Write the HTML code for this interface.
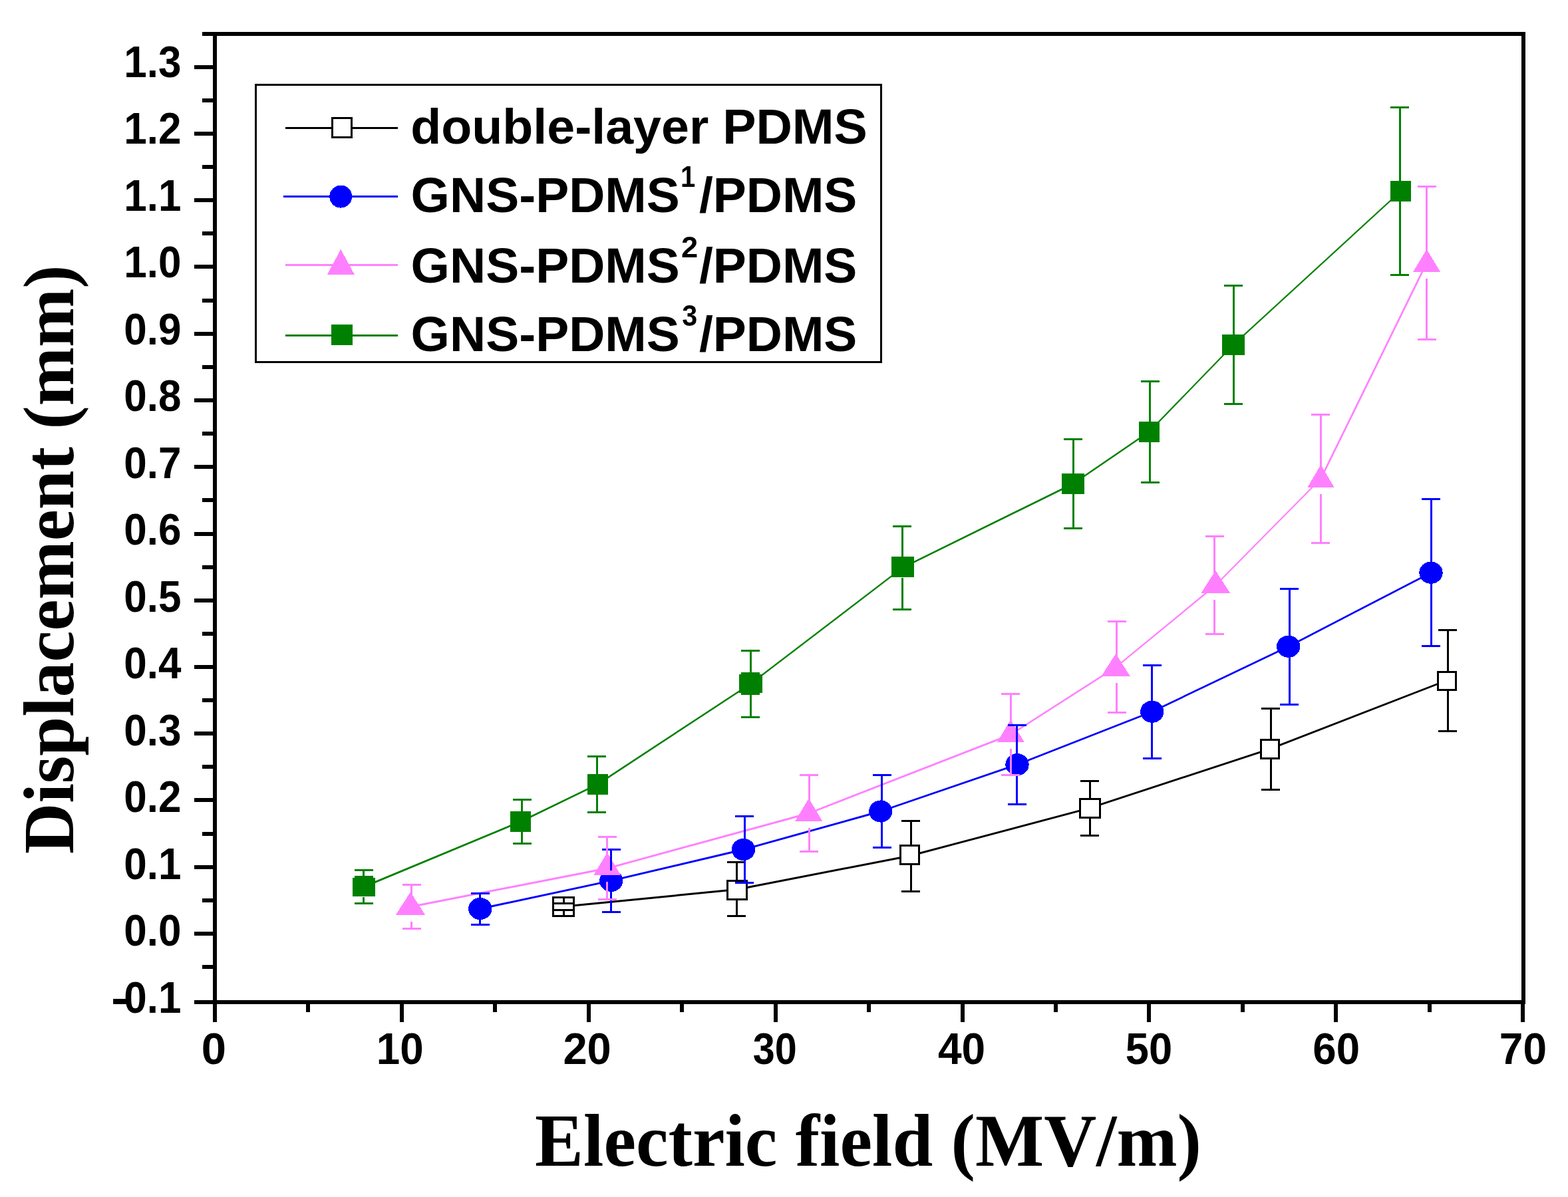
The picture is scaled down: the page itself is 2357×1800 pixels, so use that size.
<!DOCTYPE html><html><head><meta charset="utf-8"><title>Displacement vs Electric field</title>
<style>html,body{margin:0;padding:0;background:#fff;overflow:hidden}svg{display:block}.tk{font-family:"Liberation Sans",Arial,sans-serif;font-weight:bold;font-size:66px;fill:#000}.lg{font-family:"Liberation Sans",Arial,sans-serif;font-weight:bold;font-size:75px;fill:#000}.sp{font-family:"Liberation Sans",Arial,sans-serif;font-weight:bold;font-size:44.8px;fill:#000}.ti{font-family:"Liberation Serif","Times New Roman",serif;font-weight:bold;fill:#000}</style></head><body>
<svg width="2357" height="1800" viewBox="0 0 2357 1800">
<rect width="2357" height="1800" fill="#fff"/>
<g fill="none" stroke-linecap="butt">
<g stroke="#000000"><line x1="847" y1="1363.3" x2="1108" y2="1337.5" stroke-width="2.99"/><line x1="1108" y1="1337.5" x2="1367.6" y2="1287" stroke-width="2.94"/><line x1="1367.6" y1="1287" x2="1638" y2="1215.2" stroke-width="2.90"/><line x1="1638" y1="1215.2" x2="1908.6" y2="1126.4" stroke-width="2.85"/><line x1="1908.6" y1="1126.4" x2="2174.6" y2="1023.3" stroke-width="2.80"/></g>
<g stroke="#0000ff"><line x1="721.8" y1="1366.5" x2="918.7" y2="1324.4" stroke-width="2.93"/><line x1="918.7" y1="1324.4" x2="1117.5" y2="1277.5" stroke-width="2.92"/><line x1="1117.5" y1="1277.5" x2="1323.8" y2="1220" stroke-width="2.89"/><line x1="1323.8" y1="1220" x2="1529" y2="1149.7" stroke-width="2.84"/><line x1="1529" y1="1149.7" x2="1731.8" y2="1070.2" stroke-width="2.79"/><line x1="1731.8" y1="1070.2" x2="1936.7" y2="972.2" stroke-width="2.71"/><line x1="1936.7" y1="972.2" x2="2151" y2="861.2" stroke-width="2.66"/></g>
<g stroke="#ff80ff"><line x1="617.5" y1="1363.5" x2="912.7" y2="1305.8" stroke-width="2.94"/><line x1="912.7" y1="1305.8" x2="1215.8" y2="1223" stroke-width="2.89"/><line x1="1215.8" y1="1223" x2="1519.3" y2="1104.6" stroke-width="2.79"/><line x1="1519.3" y1="1104.6" x2="1677.5" y2="1003.2" stroke-width="2.53"/><line x1="1677.5" y1="1003.2" x2="1827.3" y2="880" stroke-width="2.32"/><line x1="1827.3" y1="880" x2="1985.5" y2="719.7" stroke-width="2.14"/><line x1="1985.5" y1="719.7" x2="2144.6" y2="395.2" stroke-width="2.69"/></g>
<g stroke="#008000"><line x1="546.7" y1="1333.6" x2="782.7" y2="1235.5" stroke-width="2.77"/><line x1="782.7" y1="1235.5" x2="898.4" y2="1179.4" stroke-width="2.70"/><line x1="898.4" y1="1179.4" x2="1128.4" y2="1028.2" stroke-width="2.51"/><line x1="1128.4" y1="1028.2" x2="1356.8" y2="853.6" stroke-width="2.38"/><line x1="1356.8" y1="853.6" x2="1613" y2="727.5" stroke-width="2.69"/><line x1="1613" y1="727.5" x2="1727.4" y2="649.3" stroke-width="2.48"/><line x1="1727.4" y1="649.3" x2="1854" y2="518.4" stroke-width="2.16"/><line x1="1854" y1="518.4" x2="2105.6" y2="287.5" stroke-width="2.21"/></g>
</g>
<g shape-rendering="crispEdges">
<rect x="831.5" y="1349.5" width="31" height="27.7" fill="#fff" stroke="#000" stroke-width="3"/>
<rect x="1093.9" y="1324.6" width="28.4" height="27.6" fill="#fff" stroke="#000" stroke-width="3"/>
<rect x="1353.8" y="1271.8" width="27.6" height="27.4" fill="#fff" stroke="#000" stroke-width="3"/>
<rect x="1623.3" y="1201.1" width="29.7" height="27.9" fill="#fff" stroke="#000" stroke-width="3"/>
<rect x="1895.1" y="1112.8" width="27" height="27.2" fill="#fff" stroke="#000" stroke-width="3"/>
<rect x="2161.1" y="1010.3" width="27.1" height="26.8" fill="#fff" stroke="#000" stroke-width="3"/>
<ellipse cx="721.8" cy="1366.5" rx="17.7" ry="16.6" fill="#0000ff"/>
<ellipse cx="918.7" cy="1324.4" rx="17.7" ry="16.6" fill="#0000ff"/>
<ellipse cx="1117.5" cy="1277.5" rx="17.7" ry="16.6" fill="#0000ff"/>
<ellipse cx="1323.8" cy="1220" rx="17.7" ry="16.6" fill="#0000ff"/>
<ellipse cx="1529" cy="1149.7" rx="17.7" ry="16.6" fill="#0000ff"/>
<ellipse cx="1731.8" cy="1070.2" rx="17.7" ry="16.6" fill="#0000ff"/>
<ellipse cx="1936.7" cy="972.2" rx="17.7" ry="16.6" fill="#0000ff"/>
<ellipse cx="2151" cy="861.2" rx="17.7" ry="16.6" fill="#0000ff"/>
<polygon points="595,1375.5 639,1375.5 617,1341.5" fill="#ff80ff"/>
<polygon points="892.4,1316 933,1316 912.7,1282" fill="#ff80ff"/>
<polygon points="1195.5,1234.5 1236,1234.5 1215.8,1200.5" fill="#ff80ff"/>
<polygon points="1498.5,1116.4 1540,1116.4 1519.2,1082.4" fill="#ff80ff"/>
<polygon points="1655.4,1017 1698.9,1017 1677.2,983" fill="#ff80ff"/>
<polygon points="1805.5,891.8 1849,891.8 1827.2,857.8" fill="#ff80ff"/>
<polygon points="1965.5,732.7 2005.5,732.7 1985.5,698.7" fill="#ff80ff"/>
<polygon points="2124.3,408.8 2165,408.8 2144.7,374.8" fill="#ff80ff"/>
<rect x="529.5" y="1320" width="34.5" height="28" fill="#008000"/>
<rect x="532.8" y="1317" width="28" height="31" fill="#008000"/>
<rect x="767" y="1220" width="31" height="31" fill="#008000"/>
<rect x="883" y="1164" width="31" height="31" fill="#008000"/>
<rect x="1111" y="1014" width="34.5" height="28" fill="#008000"/>
<rect x="1114.3" y="1011" width="27.7" height="34.2" fill="#008000"/>
<rect x="1339.5" y="836.5" width="34.5" height="31" fill="#008000"/>
<rect x="1596" y="712" width="34" height="31" fill="#008000"/>
<rect x="1712" y="634" width="31" height="31" fill="#008000"/>
<rect x="1837" y="503" width="34" height="31" fill="#008000"/>
<rect x="2090" y="272" width="31" height="31" fill="#008000"/>
</g>
<g shape-rendering="crispEdges" stroke-width="3" fill="none">
<path stroke="#000000" d="M847 1348V1358.6M847 1378.7V1368.1M833 1358.6h28M833 1368.1h28M1107 1323.1V1296M1107 1353.7V1377.3M1093 1296h28M1093 1377.3h28M1369 1270.3V1234M1369 1300.7V1340M1355 1234h28M1355 1340h28M1638.2 1199.6V1174.5M1638.2 1230.5V1256M1624.2 1174.5h28M1624.2 1256h28M1910 1111.3V1065.5M1910 1141.5V1187.3M1896 1065.5h28M1896 1187.3h28M2176 1008.8V947M2176 1038.6V1099.7M2162 947h28M2162 1099.7h28"/>
<path stroke="#0000ff" d="M721.8 1351.5V1343M721.8 1381.5V1390M707.8 1343h28M707.8 1390h28M918.6 1309.4V1277.7M918.6 1339.4V1371.1M904.6 1277.7h28M904.6 1371.1h28M1119 1262.5V1227.6M1119 1292.5V1327.3M1105 1227.6h28M1105 1327.3h28M1325.5 1205V1165.5M1325.5 1235V1274.5M1311.5 1165.5h28M1311.5 1274.5h28M1528.7 1134.7V1090.4M1528.7 1164.7V1209M1514.7 1090.4h28M1514.7 1209h28M1731.8 1055.2V1000M1731.8 1085.2V1140.4M1717.8 1000h28M1717.8 1140.4h28M1938.2 957.2V885M1938.2 987.2V1059.5M1924.2 885h28M1924.2 1059.5h28M2151.3 846.2V750.6M2151.3 876.2V971.9M2137.3 750.6h28M2137.3 971.9h28"/>
<path stroke="#ff80ff" d="M618.5 1345.5V1330.5M618.5 1385.5V1396.4M604.5 1330.5h28M604.5 1396.4h28M912.7 1286V1258.9M912.7 1326V1352.6M898.7 1258.9h28M898.7 1352.6h28M1216 1204.5V1165.5M1216 1244.5V1280.4M1202 1165.5h28M1202 1280.4h28M1519 1086.4V1043.6M1519 1126.4V1165.5M1505 1043.6h28M1505 1165.5h28M1678.5 987V934.5M1678.5 1027V1071.8M1664.5 934.5h28M1664.5 1071.8h28M1825.5 861.8V806.7M1825.5 901.8V953.3M1811.5 806.7h28M1811.5 953.3h28M1985 702.7V623M1985 742.7V816.4M1971 623h28M1971 816.4h28M2144.5 378.8V280M2144.5 418.8V510.5M2130.5 280h28M2130.5 510.5h28"/>
<path stroke="#008000" d="M546.5 1318.6V1308.7M546.5 1348.6V1358.6M532.5 1308.7h28M532.5 1358.6h28M784.5 1220.5V1202.7M784.5 1250.5V1268.4M770.5 1202.7h28M770.5 1268.4h28M897 1164.4V1137.3M897 1194.4V1221.5M883 1137.3h28M883 1221.5h28M1128.2 1013.2V978.2M1128.2 1043.2V1078.2M1114.2 978.2h28M1114.2 1078.2h28M1356.4 838.6V791.3M1356.4 868.6V916M1342.4 791.3h28M1342.4 916h28M1613.1 712.5V660.4M1613.1 742.5V794.5M1599.1 660.4h28M1599.1 794.5h28M1728.5 634.3V573.1M1728.5 664.3V725.5M1714.5 573.1h28M1714.5 725.5h28M1854 503.4V429.5M1854 533.4V607.3M1840 429.5h28M1840 607.3h28M2104 272.5V161.3M2104 302.5V413.8M2090 161.3h28M2090 413.8h28"/>
</g>
<g shape-rendering="crispEdges" fill="#000">
<rect x="304" y="48" width="1989" height="6"/>
<rect x="320" y="48" width="6" height="1462"/>
<rect x="2287" y="48" width="6" height="1462"/>
<rect x="292" y="1504" width="2001" height="6"/>
<rect x="292" y="1504" width="28" height="6"/>
<rect x="292" y="1401" width="28" height="6"/>
<rect x="292" y="1301" width="28" height="6"/>
<rect x="292" y="1200" width="28" height="6"/>
<rect x="292" y="1100" width="28" height="6"/>
<rect x="292" y="1000" width="28" height="6"/>
<rect x="292" y="900" width="28" height="6"/>
<rect x="292" y="800" width="28" height="6"/>
<rect x="292" y="699" width="28" height="6"/>
<rect x="292" y="599" width="28" height="6"/>
<rect x="292" y="499" width="28" height="6"/>
<rect x="292" y="398" width="28" height="6"/>
<rect x="292" y="298" width="28" height="6"/>
<rect x="292" y="198" width="28" height="6"/>
<rect x="292" y="98" width="28" height="6"/>
<rect x="304" y="1451" width="16" height="6"/>
<rect x="304" y="1351" width="16" height="6"/>
<rect x="304" y="1251" width="16" height="6"/>
<rect x="304" y="1150" width="16" height="6"/>
<rect x="304" y="1050" width="16" height="6"/>
<rect x="304" y="950" width="16" height="6"/>
<rect x="304" y="850" width="16" height="6"/>
<rect x="304" y="749" width="16" height="6"/>
<rect x="304" y="649" width="16" height="6"/>
<rect x="304" y="549" width="16" height="6"/>
<rect x="304" y="449" width="16" height="6"/>
<rect x="304" y="348" width="16" height="6"/>
<rect x="304" y="248" width="16" height="6"/>
<rect x="304" y="148" width="16" height="6"/>
<rect x="320" y="1510" width="6" height="27"/>
<rect x="601" y="1510" width="6" height="27"/>
<rect x="882" y="1510" width="6" height="27"/>
<rect x="1163" y="1510" width="6" height="27"/>
<rect x="1444" y="1510" width="6" height="27"/>
<rect x="1724" y="1510" width="6" height="27"/>
<rect x="2005" y="1510" width="6" height="27"/>
<rect x="2286" y="1510" width="6" height="27"/>
<rect x="460" y="1510" width="6" height="12"/>
<rect x="741" y="1510" width="6" height="12"/>
<rect x="1022" y="1510" width="6" height="12"/>
<rect x="1303" y="1510" width="6" height="12"/>
<rect x="1584" y="1510" width="6" height="12"/>
<rect x="1865" y="1510" width="6" height="12"/>
<rect x="2146" y="1510" width="6" height="12"/>
</g>
<g class="tk">
<text transform="translate(166.7 1522.8) scale(1.29 1)">-</text>
<text x="186.3" y="1522.8" textLength="86.2" lengthAdjust="spacingAndGlyphs">0.1</text>
<text x="186.3" y="1422.3" textLength="86.2" lengthAdjust="spacingAndGlyphs">0.0</text>
<text x="186.3" y="1321.8" textLength="86.2" lengthAdjust="spacingAndGlyphs">0.1</text>
<text x="186.3" y="1221.3" textLength="86.2" lengthAdjust="spacingAndGlyphs">0.2</text>
<text x="186.3" y="1120.8" textLength="86.2" lengthAdjust="spacingAndGlyphs">0.3</text>
<text x="186.3" y="1020.3" textLength="86.2" lengthAdjust="spacingAndGlyphs">0.4</text>
<text x="186.3" y="919.8" textLength="86.2" lengthAdjust="spacingAndGlyphs">0.5</text>
<text x="186.3" y="819.3" textLength="86.2" lengthAdjust="spacingAndGlyphs">0.6</text>
<text x="186.3" y="718.8" textLength="86.2" lengthAdjust="spacingAndGlyphs">0.7</text>
<text x="186.3" y="618.3" textLength="86.2" lengthAdjust="spacingAndGlyphs">0.8</text>
<text x="186.3" y="517.8" textLength="86.2" lengthAdjust="spacingAndGlyphs">0.9</text>
<text x="186.3" y="417.3" textLength="86.2" lengthAdjust="spacingAndGlyphs">1.0</text>
<text x="186.3" y="316.8" textLength="86.2" lengthAdjust="spacingAndGlyphs">1.1</text>
<text x="186.3" y="216.3" textLength="86.2" lengthAdjust="spacingAndGlyphs">1.2</text>
<text x="186.3" y="115.8" textLength="86.2" lengthAdjust="spacingAndGlyphs">1.3</text>
<text class="tk" style="font-size:66px" x="302.7" y="1600" textLength="37.3" lengthAdjust="spacingAndGlyphs">0</text>
<text class="tk" style="font-size:66px" x="565.7" y="1600" textLength="70.9" lengthAdjust="spacingAndGlyphs">10</text>
<text class="tk" style="font-size:66px" x="846.4" y="1600" textLength="72.4" lengthAdjust="spacingAndGlyphs">20</text>
<text class="tk" style="font-size:66px" x="1131.8" y="1600" textLength="66.1" lengthAdjust="spacingAndGlyphs">30</text>
<text class="tk" style="font-size:66px" x="1410" y="1600" textLength="71.2" lengthAdjust="spacingAndGlyphs">40</text>
<text class="tk" style="font-size:66px" x="1691.7" y="1600" textLength="70.4" lengthAdjust="spacingAndGlyphs">50</text>
<text class="tk" style="font-size:66px" x="1973.3" y="1600" textLength="70.7" lengthAdjust="spacingAndGlyphs">60</text>
<text class="tk" style="font-size:66px" x="2253.8" y="1600" textLength="71.2" lengthAdjust="spacingAndGlyphs">70</text>
</g>
<text class="ti" style="font-size:113px" x="804.1" y="1752.7" textLength="1001.9" lengthAdjust="spacingAndGlyphs">Electric field (MV/m)</text>
<text class="ti" style="font-size:107.5px" transform="translate(109.7 1283.9) rotate(-90)" x="0" y="0" textLength="885.4" lengthAdjust="spacingAndGlyphs">Displacement (mm)</text>
<rect x="384.5" y="127.5" width="940" height="417" fill="none" stroke="#000" stroke-width="3" shape-rendering="crispEdges"/>
<g shape-rendering="crispEdges">
<rect x="429" y="191" width="169" height="3" fill="#000000"/>
<rect x="499.5" y="177" width="29" height="29" fill="#fff" stroke="#000" stroke-width="3"/>
<rect x="426" y="294" width="172" height="3" fill="#0000ff"/>
<circle cx="512.3" cy="295.6" r="17" fill="#0000ff"/>
<rect x="429" y="397" width="169" height="3" fill="#ff80ff"/>
<polygon points="492,412.5 532.6,412.5 512.3,375" fill="#ff80ff"/>
<rect x="429" y="503" width="169" height="3" fill="#008000"/>
<rect x="498" y="487.5" width="31.5" height="31" fill="#008000"/>
</g>
<g class="lg">
<text class="lg" style="font-size:75px" x="617.2" y="215.8" textLength="686.7" lengthAdjust="spacingAndGlyphs">double-layer PDMS</text>
<text class="lg" style="font-size:75px" x="617.6" y="318.8" textLength="404.3" lengthAdjust="spacingAndGlyphs">GNS-PDMS</text>
<text class="sp" style="font-size:44.8px" x="1022.9" y="281.2" textLength="22.3" lengthAdjust="spacingAndGlyphs">1</text>
<text class="lg" style="font-size:75px" x="1050.9" y="318.8" textLength="237.5" lengthAdjust="spacingAndGlyphs">/PDMS</text>
<text class="lg" style="font-size:75px" x="617.6" y="424.6" textLength="404.3" lengthAdjust="spacingAndGlyphs">GNS-PDMS</text>
<text class="sp" style="font-size:44.8px" x="1024.1" y="387.1" textLength="25.2" lengthAdjust="spacingAndGlyphs">2</text>
<text class="lg" style="font-size:75px" x="1050.9" y="424.6" textLength="237.5" lengthAdjust="spacingAndGlyphs">/PDMS</text>
<text class="lg" style="font-size:75px" x="617.6" y="527.6" textLength="404.3" lengthAdjust="spacingAndGlyphs">GNS-PDMS</text>
<text class="sp" style="font-size:44.8px" x="1025.3" y="490.1" textLength="23" lengthAdjust="spacingAndGlyphs">3</text>
<text class="lg" style="font-size:75px" x="1050.9" y="527.6" textLength="237.5" lengthAdjust="spacingAndGlyphs">/PDMS</text>
</g>
</svg></body></html>
